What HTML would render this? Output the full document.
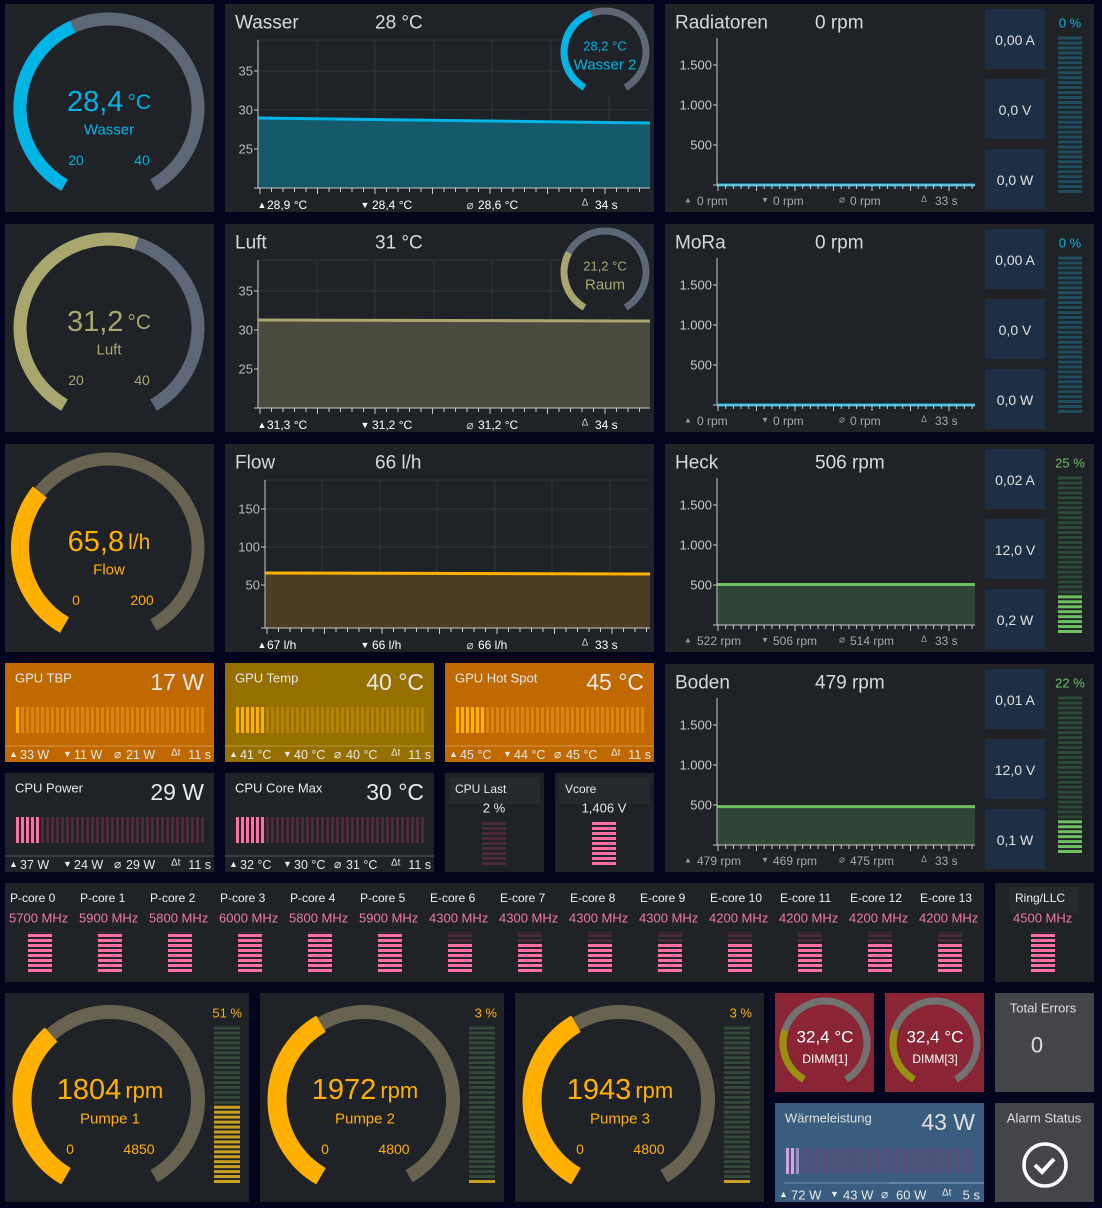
<!DOCTYPE html>
<html><head><meta charset="utf-8">
<style>
html,body{margin:0;padding:0;background:#03051c;}
svg{display:block;font-family:"Liberation Sans","DejaVu Sans",sans-serif;}
</style></head>
<body>
<svg id="s" width="1102" height="1208" viewBox="0 0 1102 1208" xmlns="http://www.w3.org/2000/svg">
<rect width="1102" height="1208" fill="#03051c"/>
</svg>
<script>
var S=document.getElementById('s');var h='';
function R(x,y,w,hh,c,extra){h+='<rect x="'+x+'" y="'+y+'" width="'+w+'" height="'+hh+'" fill="'+c+'" '+(extra||'')+'/>';}
function T(x,y,t,sz,c,a,extra){h+='<text x="'+x+'" y="'+y+'" font-size="'+sz+'" fill="'+c+'" text-anchor="'+(a||'start')+'" dominant-baseline="central" '+(extra||'')+'>'+t+'</text>';}
function L(x1,y1,x2,y2,c,w){h+='<line x1="'+x1+'" y1="'+y1+'" x2="'+x2+'" y2="'+y2+'" stroke="'+c+'" stroke-width="'+(w||1)+'"/>';}
function pt(cx,cy,r,d){var a=d*Math.PI/180;return [cx+r*Math.sin(a),cy-r*Math.cos(a)];}
function A(cx,cy,r,d0,d1,c,w){var p=pt(cx,cy,r,d0),q=pt(cx,cy,r,d1);var lg=(d1-d0)>180?1:0;
h+='<path d="M'+p[0].toFixed(1)+' '+p[1].toFixed(1)+' A'+r+' '+r+' 0 '+lg+' 1 '+q[0].toFixed(1)+' '+q[1].toFixed(1)+'" fill="none" stroke="'+c+'" stroke-width="'+w+'"/>';}
var PB='#1f2328';
function G(px,py,frac,col,track,val,unit,lab,mn,mx,vw,tw){
 R(px,py,209,208,PB);var cx=px+104,cy=py+104;
 A(cx,cy,89,-150,150,track,tw);A(cx,cy,89,-150,-150+300*frac,col,vw);
 h+='<text x="'+cx+'" y="'+(cy-6)+'" text-anchor="middle" dominant-baseline="central" fill="'+col+'"><tspan font-size="29">'+val+'</tspan><tspan font-size="21" dx="4">'+unit+'</tspan></text>';
 T(cx,cy+22,lab,15,col,'middle');T(cx-33,cy+52,mn,14,col,'middle');T(cx+33,cy+52,mx,14,col,'middle');
}
G(5,4,0.42,'#00b4e6','#5e6775','28,4','°C','Wasser','20','40',13,13);
G(5,224,0.56,'#a9a66e','#5e6777','31,2','°C','Luft','20','40',13,13);
G(5,444,0.33,'#ffb000','#686250','65,8','l/h','Flow','0','200',18,13);
function C(px,py,title,val,ticks,lineY,lineY2,lc,fc,stats,ax){
 R(px,py,429,208,PB);T(px+10,py+19,title,19,'#d8d8d8');T(px+150,py+19,val,19,'#d8d8d8');
 var x0=ax,x1=px+425,yb=py+184,yt=py+36;
 for(var i=0;i<7;i++){var gx=x0+(x1-x0)*i/6.7;L(gx.toFixed(0),yt,gx.toFixed(0),yb,'#30353b',1);}
 L(x0,yt,x1,yt,'#30353b',1);
 ticks.forEach(function(t){L(x0,t[1],x1,t[1],'#30353b',1);});
 h+='<polygon points="'+x0+','+lineY+' '+x1+','+lineY2+' '+x1+','+yb+' '+x0+','+yb+'" fill="'+fc+'"/>';
 L(x0,lineY,x1,lineY2,lc,3);
 L(x0,yt,x0,yb,'#c8c8c8',1);L(x0-4,yb,x1,yb,'#c8c8c8',1);
 ticks.forEach(function(t){L(x0-4,t[1],x0,t[1],'#c8c8c8',1);T(x0-5,t[1],t[0],13,'#b8b8b8','end');});
 for(var x=x0+2;x<x1;x+=11.5){var big=(Math.round((x-x0)/11.5)%5==0);L(x.toFixed(1),yb,x.toFixed(1),yb+(big?6:4),'#c8c8c8',1);}
 T(px+37,py+201,'▲',9,'#fff','middle');T(px+140,py+201,'▼',9,'#fff','middle');T(px+245,py+201,'⌀',12,'#ccc','middle');T(px+360,py+199,'Δ',10,'#ccc','middle');
 T(px+42,py+201,stats[0],12,'#fff');T(px+147,py+201,stats[1],12,'#fff');T(px+253,py+201,stats[2],12,'#fff');T(px+370,py+201,stats[3],12,'#fff');
}
C(225,4,'Wasser','28 °C',[['35',71],['30',110],['25',149]],118,123,'#00b4e6','#16596b',['28,9 °C','28,4 °C','28,6 °C','34 s'],258);
C(225,224,'Luft','31 °C',[['35',291],['30',330],['25',369]],320,321,'#a9a66e','#4a4b3e',['31,3 °C','31,2 °C','31,2 °C','34 s'],258);
C(225,444,'Flow','66 l/h',[['150',509],['100',547],['50',585]],573,574,'#ffb000','#4c3e22',['67 l/h','66 l/h','66 l/h','33 s'],265);
R(560,8,90,88,PB);A(605,52,41,-150,150,'#5e6775',7);A(605,52,41,-150,-20,'#00b4e6',7);
T(605,46,'28,2 °C',13,'#00b4e6','middle');T(605,65,'Wasser 2',15,'#00b4e6','middle');
R(560,228,90,88,PB);A(605,272,41,-150,150,'#5e6777',7);A(605,272,41,-150,-62,'#a9a66e',7);
T(605,266,'21,2 °C',13,'#a9a66e','middle');T(605,285,'Raum',15,'#a9a66e','middle');
function F(py,title,val,lineV,lc,fc,A_,V_,W_,pct,pc,on,dim,stats){
 var px=665;R(px,py,429,208,PB);T(px+10,py+19,title,19,'#d8d8d8');T(px+150,py+19,val,19,'#d8d8d8');
 var x0=717,x1=975,yb=py+181;
 var ly=yb-lineV*0.08;
 if(lineV>0){R(x0,ly,x1-x0,yb-ly,fc);}
 L(x0,ly,x1,ly,lc,3);
 L(x0,py+34,x0,yb,'#c8c8c8',1);L(x0-4,yb,x1,yb,'#c8c8c8',1);
 [['1.500',61],['1.000',101],['500',141]].forEach(function(t){L(x0-4,py+t[1],x0,py+t[1],'#c8c8c8',1);T(x0-5,py+t[1],t[0],13,'#c8c8c8','end');});
 for(var x=x0+1;x<x1;x+=7.7){var big=(Math.round((x-x0)/7.7)%5==0);L(x.toFixed(1),yb,x.toFixed(1),yb+(big?6:4),'#c8c8c8',1);}
 T(688,py+196,'▲',8,'#999','middle');T(765,py+196,'▼',8,'#999','middle');T(842,py+196,'⌀',10,'#999','middle');T(924,py+195,'Δ',9,'#999','middle');
 T(697,py+197,stats[0],12,'#a8a8a8');T(773,py+197,stats[1],12,'#a8a8a8');T(850,py+197,stats[2],12,'#a8a8a8');T(935,py+197,stats[3],12,'#a8a8a8');
 [[A_,5],[V_,75],[W_,145]].forEach(function(b){R(985,py+b[1],60,60,'#1d2f44');T(1015,py+b[1]+31,b[0],14,'#e0e0e0','middle');});
 T(1070,py+19,pct,13,pc,'middle');
 var n=32;for(var i=0;i<n;i++){var y=py+189-i*4.95;R(1058,y-3,24,3,i<on?pc:dim);}
}
F(4,'Radiatoren','0 rpm',0,'#00b4e6','#1a3a48','0,00 A','0,0 V','0,0 W','0 %','#00b4e6',0,'#1e4e5e',['0 rpm','0 rpm','0 rpm','33 s']);
F(224,'MoRa','0 rpm',0,'#00b4e6','#1a3a48','0,00 A','0,0 V','0,0 W','0 %','#00b4e6',0,'#1e4e5e',['0 rpm','0 rpm','0 rpm','33 s']);
F(444,'Heck','506 rpm',506,'#6cc060','#2f4535','0,02 A','12,0 V','0,2 W','25 %','#6cc060',8,'#2c4a36',['522 rpm','506 rpm','514 rpm','33 s']);
F(664,'Boden','479 rpm',479,'#6cc060','#2f4535','0,01 A','12,0 V','0,1 W','22 %','#6cc060',7,'#2c4a36',['479 rpm','469 rpm','475 rpm','33 s']);
function BT(px,py,w,bg,title,val,on,lit,dim,stats,sepc){
 var tc='#e8e8e8';
 R(px,py,w,99,bg);T(px+10,py+15,title,13,tc);T(px+w-10,py+19,val,23,tc,'end');
 var n=38;for(var i=0;i<n;i++){R(px+11+i*5,py+44,3,26,i<on?lit:dim);}
 L(px,py+83,px+w,py+83,sepc,1);
 T(px+4,py+91,'▲',9,tc);T(px+58,py+91,'▼',9,tc);T(px+109,py+91,'⌀',12,tc);T(px+166,py+90,'Δt',10,tc);
 T(px+15,py+92,stats[0],12.5,tc);T(px+69,py+92,stats[1],12.5,tc);T(px+121,py+92,stats[2],12.5,tc);T(px+w-3,py+92,stats[3],12.5,tc,'end');
}
BT(5,663,209,'#bf6900','GPU TBP','17 W',1,'#ffb000','#d9870a',['33 W','11 W','21 W','11 s'],'#d99540');
BT(225,663,209,'#957000','GPU Temp','40 °C',6,'#ffb000','#b38400',['41 °C','40 °C','40 °C','11 s'],'#b8963a');
BT(445,663,209,'#bf6900','GPU Hot Spot','45 °C',6,'#ffb000','#d9870a',['45 °C','44 °C','45 °C','11 s'],'#d99540');
BT(5,773,209,PB,'CPU Power','29 W',5,'#ff6fa0','#4e2a3a',['37 W','24 W','29 W','11 s'],'#555a60');
BT(225,773,209,PB,'CPU Core Max','30 °C',6,'#ff6fa0','#4e2a3a',['32 °C','30 °C','31 °C','11 s'],'#555a60');
function stack(cx,y0,n,on,w,lit,dim){for(var i=0;i<n;i++){R(cx-w/2,y0+(n-1-i)*5,w,3,i<on?lit:dim);}}
R(445,773,99,99,PB);R(449,777,91,27,'#26292d');T(455,789,'CPU Last',12,'#e8e8e8');T(494,808,'2 %',13,'#e8e8e8','middle');stack(494,822,9,0,24,'#ff6fa0','#4a2a38');
R(555,773,99,99,PB);R(559,777,91,27,'#26292d');T(565,789,'Vcore',12,'#e8e8e8');T(604,808,'1,406 V',13,'#e8e8e8','middle');stack(604,822,9,9,24,'#ff6fa0','#4a2a38');
R(5,883,979,99,PB);
var cores=[['P-core 0','5700'],['P-core 1','5900'],['P-core 2','5800'],['P-core 3','6000'],['P-core 4','5800'],['P-core 5','5900'],['E-core 6','4300'],['E-core 7','4300'],['E-core 8','4300'],['E-core 9','4300'],['E-core 10','4200'],['E-core 11','4200'],['E-core 12','4200'],['E-core 13','4200']];
cores.forEach(function(c,i){var x=10+i*70;T(x,898,c[0],12,'#f0f0f0');T(x-1,918,c[1]+' MHz',13,'#f07aa8');
 var cx=x+30;R(cx-12,932,24,1,'#4a2a38');stack(cx,934,8,i<6?8:6,24,'#ff6fa0','#4a2a38');});
R(995,883,99,99,PB);R(1009,887,70,26,'#26292d');T(1015,898,'Ring/LLC',12,'#f0f0f0');T(1013,918,'4500 MHz',13,'#f07aa8');R(1031,932,24,1,'#4a2a38');stack(1043,934,8,8,24,'#ff6fa0','#4a2a38');
function PU(px,w,frac,val,lab,mx,pct,on){
 R(px,993,w,209,PB);var cx=px+105,cy=1100;
 A(cx,cy,88,-150,150,'#686250',14);A(cx,cy,88,-150,-150+300*frac,'#ffb000',19);
 h+='<text x="'+cx+'" y="'+(cy-10)+'" text-anchor="middle" dominant-baseline="central" fill="#ffb000"><tspan font-size="29">'+val+'</tspan><tspan font-size="22" dx="4">rpm</tspan></text>';
 T(cx,cy+19,lab,15,'#ffb000','middle');T(cx-40,cy+49,'0',14,'#ffb000','middle');T(cx+29,cy+49,mx,14,'#ffb000','middle');
 T(px+237,1013,pct,13,'#ffb000','end');
 for(var i=0;i<32;i++){R(px+209,1180-i*4.95,26,3,i<on?'#c9a020':'#34493a');}
}
PU(5,244,0.36,'1804','Pumpe 1','4850','51 %',16);
PU(260,244,0.40,'1972','Pumpe 2','4800','3 %',1);
PU(515,249,0.40,'1943','Pumpe 3','4800','3 %',1);
[[775,'DIMM[1]'],[885,'DIMM[3]']].forEach(function(d){var px=d[0];R(px,993,99,99,'#8b2535');var cx=px+50,cy=1043;
 A(cx,cy,42,-150,150,'#727272',7);A(cx,cy,42,-150,-72,'#9a9010',7);
 T(cx,1037,'32,4 °C',17,'#fff','middle');T(cx,1059,d[1],12,'#fff','middle');});
R(995,993,99,99,'#434548');T(1043,1008,'Total Errors',13,'#e0e0e0','middle');T(1037,1045,'0',22,'#e0e0e0','middle');
R(995,1103,99,99,'#434548');T(1044,1118,'Alarm Status',13,'#e0e0e0','middle');
h+='<circle cx="1045" cy="1165" r="21" fill="none" stroke="#fff" stroke-width="3.5"/><path d="M1035 1165 l7 7 l12 -13" fill="none" stroke="#fff" stroke-width="4"/>';
R(775,1103,209,99,'#395d7e');T(785,1118,'Wärmeleistung',13,'#e0e0e0');T(975,1122,'43 W',23,'#e0e0e0','end');
for(var i=0;i<38;i++){R(786+i*5,1148,3,26,i<2?'#d8a0e0':(i==2?'#a888c0':'#5a4e7a'));}
L(784,1183,889,1183,'#6a8aa6',1);L(889,1183,984,1183,'#8fb0cc',1);
T(779,1194,'▲',9,'#e8e8e8');T(830,1194,'▼',9,'#e8e8e8');T(881,1194,'⌀',12,'#e8e8e8');T(942,1193,'Δt',10,'#e8e8e8');
T(791,1195,'72 W',13,'#e8e8e8');T(843,1195,'43 W',13,'#e8e8e8');T(896,1195,'60 W',13,'#e8e8e8');T(980,1195,'5 s',13,'#e8e8e8','end');
S.innerHTML+=h;
</script>
</body></html>
